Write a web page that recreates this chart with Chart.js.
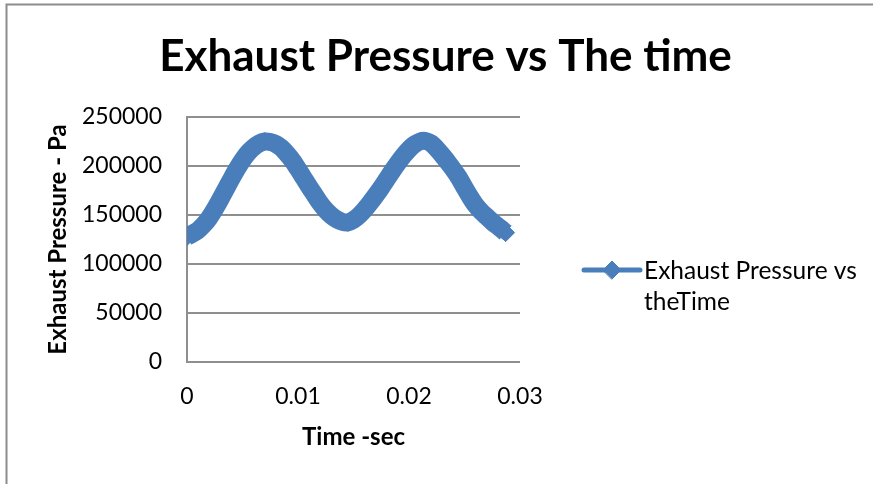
<!DOCTYPE html>
<html>
<head>
<meta charset="utf-8">
<script src="https://cdn.jsdelivr.net/npm/chart.js@4/dist/chart.umd.min.js"></script>
<style>
  html, body { margin: 0; padding: 0; background: #ffffff; }
  #wrap { width: 873px; height: 484px; }
</style>
</head>
<body>
<div id="wrap"><canvas id="c" width="873" height="484"></canvas></div>
<script>
// Sampled exhaust pressure over one run (time in seconds, pressure in Pa)
const timeSec = [
  0.0000, 0.0005, 0.0010, 0.0015, 0.0020, 0.0025, 0.0030, 0.0035, 0.0040, 0.0045,
  0.0050, 0.0055, 0.0060, 0.0065, 0.0070, 0.0075, 0.0080, 0.0085, 0.0090, 0.0095,
  0.0100, 0.0105, 0.0110, 0.0115, 0.0120, 0.0125, 0.0130, 0.0135, 0.0140, 0.0145,
  0.0150, 0.0155, 0.0160, 0.0165, 0.0170, 0.0175, 0.0180, 0.0185, 0.0190, 0.0195,
  0.0200, 0.0205, 0.0210, 0.0215, 0.0220, 0.0225, 0.0230, 0.0235, 0.0240, 0.0245,
  0.0250, 0.0255, 0.0260, 0.0265, 0.0270, 0.0275, 0.0280, 0.0285, 0.0287
];
const pressurePa = [
  128000, 131000, 134500, 140000, 147000, 156000, 166000, 176500, 187000, 197000,
  206000, 213500, 219000, 223000, 225000, 224500, 222500, 218500, 212500, 205500,
  197000, 188000, 179000, 170500, 162000, 155000, 149500, 145500, 143000, 142500,
  145000, 149500, 155500, 162500, 170000, 178000, 186500, 195000, 203000, 210500,
  217000, 222000, 225000, 225500, 223000, 217500, 211000, 203800, 196300, 188000,
  178000, 168500, 160000, 153500, 148300, 143000, 138500, 134000, 132000
];
const xTicks = [0, 0.01, 0.02, 0.03];
const yTicks = [0, 50000, 100000, 150000, 200000, 250000];

const seriesName = 'Exhaust Pressure vs theTime';
const chartTitle = 'Exhaust Pressure vs The time';
const xTitle = 'Time -sec';
const yTitle = 'Exhaust Pressure - Pa';

const SERIES_BLUE = '#4a7ebb';
const GRID_GREY = '#8f8f8f';
const FONT = 'Lato, "Open Sans", sans-serif';

// Outer frame of the chart object
const framePlugin = {
  id: 'frame',
  afterDraw(chart) {
    const ctx = chart.ctx;
    ctx.save();
    ctx.strokeStyle = '#8c8c8c';
    ctx.lineWidth = 2;
    ctx.beginPath();
    ctx.moveTo(6.5, chart.height);
    ctx.lineTo(6.5, 4.5);
    ctx.lineTo(chart.width, 4.5);
    ctx.stroke();
    ctx.restore();
  }
};

// Right-hand legend: line with diamond marker and wrapped series name
const sideLegend = {
  id: 'sideLegend',
  afterDraw(chart, args, opts) {
    const ctx = chart.ctx;
    const ds = chart.data.datasets[0];
    const x0 = opts.x, y0 = opts.y;
    ctx.save();
    ctx.strokeStyle = ds.borderColor;
    ctx.lineWidth = 5;
    ctx.lineCap = 'round';
    ctx.beginPath();
    ctx.moveTo(x0, y0);
    ctx.lineTo(x0 + 56, y0);
    ctx.stroke();
    ctx.fillStyle = ds.backgroundColor;
    ctx.strokeStyle = ds.pointBorderColor;
    ctx.lineWidth = 1;
    Chart.helpers.drawPoint(ctx, {
      pointStyle: ds.pointStyle, radius: ds.pointRadius, borderWidth: 1, rotation: 0
    }, x0 + 28, y0);
    ctx.font = opts.font;
    ctx.fillStyle = '#000000';
    ctx.textBaseline = 'middle';
    ctx.textAlign = 'left';
    // word wrap of the series name
    const words = ds.label.split(' ');
    const lines = [];
    let cur = '';
    for (const w of words) {
      const test = cur ? cur + ' ' + w : w;
      if (ctx.measureText(test).width > opts.maxWidth && cur) { lines.push(cur); cur = w; }
      else cur = test;
    }
    if (cur) lines.push(cur);
    lines.forEach((ln, i) => ctx.fillText(ln, x0 + 60, y0 + 1 + i * opts.lineGap));
    ctx.restore();
  }
};

new Chart(document.getElementById('c'), {
  type: 'scatter',
  data: {
    datasets: [{
      label: seriesName,
      data: timeSec.map((t, i) => ({ x: t, y: pressurePa[i] })),
      showLine: true,
      borderColor: SERIES_BLUE,
      backgroundColor: SERIES_BLUE,
      borderWidth: 18,
      borderJoinStyle: 'round',
      borderCapStyle: 'butt',
      tension: 0.3,
      pointStyle: 'rectRot',
      pointRadius: 9,
      pointBorderWidth: 1,
      pointBackgroundColor: SERIES_BLUE,
      pointBorderColor: SERIES_BLUE
    }]
  },
  options: {
    responsive: false,
    animation: false,
    devicePixelRatio: 1,
    layout: { padding: { left: 18, right: 0, top: 0, bottom: 0 } },
    plugins: {
      legend: { display: false },
      tooltip: { enabled: false },
      title: {
        display: true,
        text: chartTitle,
        color: '#000000',
        font: { family: FONT, size: 44, weight: 'bold', lineHeight: 1.2 },
        padding: { top: 30.5, bottom: 33.7 }
      },
      sideLegend: { x: 584, y: 270, font: '24.5px ' + FONT, maxWidth: 230, lineGap: 31 }
    },
    scales: {
      x: {
        type: 'linear',
        min: 0,
        max: 0.03,
        afterBuildTicks: (s) => { s.ticks = xTicks.map(v => ({ value: v })); },
        afterFit: (s) => { s.height = 122; },
        ticks: {
          color: '#000000',
          padding: 21,
          font: { family: FONT, size: 23 },
          callback: (v) => (v === 0 ? '0' : Number(v).toFixed(2))
        },
        grid: { display: false, drawTicks: false },
        border: { display: false },
        title: {
          display: true,
          text: xTitle,
          color: '#000000',
          font: { family: FONT, size: 24, weight: 'bold', lineHeight: 1.2 },
          padding: { top: 0, bottom: 32.6 }
        }
      },
      y: {
        type: 'linear',
        min: 0,
        max: 250000,
        afterBuildTicks: (s) => { s.ticks = yTicks.map(v => ({ value: v })); },
        afterFit: (s) => { s.width = 169; },
        ticks: {
          color: '#000000',
          padding: 25,
          font: { family: FONT, size: 23 },
          callback: (v) => String(v)
        },
        grid: { color: GRID_GREY, lineWidth: 2, drawTicks: false },
        border: { display: true, color: GRID_GREY, width: 2 },
        title: {
          display: true,
          text: yTitle,
          color: '#000000',
          font: { family: FONT, size: 24, weight: 'bold', lineHeight: 1.2 },
          padding: { top: 25.6, bottom: 0 }
        }
      },
      // empty right-hand column reserved for the legend
      legendSpace: {
        type: 'linear',
        position: 'right',
        display: true,
        afterFit: (s) => { s.width = 353; },
        ticks: { display: false },
        grid: { display: false, drawTicks: false },
        border: { display: false }
      }
    }
  },
  plugins: [framePlugin, sideLegend]
});
</script>
</body>
</html>
